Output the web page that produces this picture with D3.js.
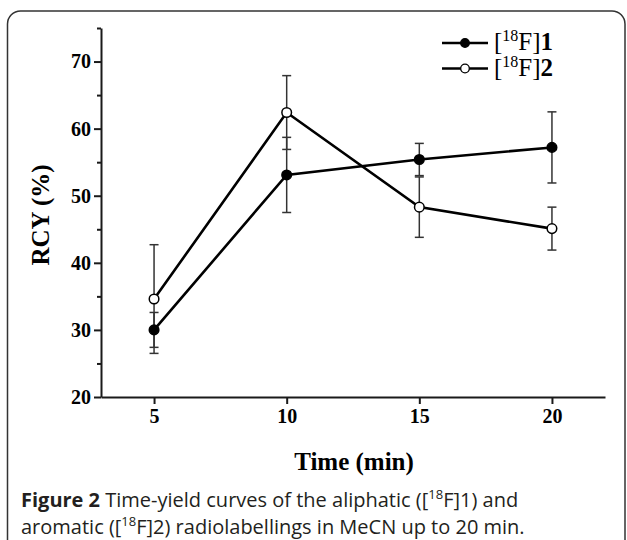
<!DOCTYPE html>
<html>
<head>
<meta charset="utf-8">
<script src="https://cdn.jsdelivr.net/npm/d3@7"></script>
<style>
  html, body { margin: 0; padding: 0; background: #fff; }
  svg { display: block; }
</style>
</head>
<body>
<div id="chart"></div>
<script>
// Time-yield curves, RCY (%) vs time (min) for two labelled compounds
const times = [5, 10, 15, 20];
const rcy1 = [30.0, 53.1, 55.4, 57.2];   // [18F]1, filled markers
const err1 = [2.6, 5.6, 2.4, 5.3];
const rcy2 = [34.6, 62.4, 48.3, 45.1];   // [18F]2, open markers
const err2 = [8.1, 5.5, 4.5, 3.2];
const yTicks = [20, 30, 40, 50, 60, 70];
const yMinorTicks = [25, 35, 45, 55, 65, 75];
const xTicks = [5, 10, 15, 20];

const width = 627, height = 540;
const serif = "'Liberation Serif', 'Times New Roman', serif";

const svg = d3.select("#chart").append("svg")
  .attr("width", width)
  .attr("height", height);

// rounded frame around the figure (runs off the bottom)
svg.append("rect")
  .attr("x", 7.5).attr("y", 11)
  .attr("width", 617.5).attr("height", 560)
  .attr("rx", 13)
  .attr("fill", "none")
  .attr("stroke", "#333")
  .attr("stroke-width", 1.5);

const x = d3.scaleLinear().domain([3, 22]).range([101, 605]);
const y = d3.scaleLinear().domain([20, 75]).range([397, 28]);

// y axis: major + minor ticks
svg.append("g")
  .attr("transform", `translate(${x(3)},0)`)
  .call(d3.axisLeft(y).tickValues(yTicks).tickSize(7).tickSizeOuter(0).tickPadding(3));
svg.append("g")
  .attr("transform", `translate(${x(3)},0)`)
  .call(d3.axisLeft(y).tickValues(yMinorTicks).tickSize(4).tickSizeOuter(0).tickFormat(""))
  .select(".domain").remove();

svg.append("g")
  .attr("transform", `translate(0,${y(20)})`)
  .call(d3.axisBottom(x).tickValues(xTicks).tickSize(7).tickSizeOuter(0).tickPadding(5));

svg.selectAll(".domain, .tick line")
  .attr("stroke", "#1a1a1a")
  .attr("stroke-width", 2);

svg.selectAll(".tick text")
  .attr("fill", "#000")
  .style("font-family", serif)
  .style("font-weight", "bold")
  .style("font-size", "20px");

// axis titles
svg.append("text")
  .attr("transform", `translate(49,215) rotate(-90)`)
  .attr("text-anchor", "middle")
  .style("font-family", serif)
  .style("font-weight", "bold")
  .style("font-size", "25px")
  .text("RCY (%)");

svg.append("text")
  .attr("x", 354).attr("y", 470)
  .attr("text-anchor", "middle")
  .style("font-family", serif)
  .style("font-weight", "bold")
  .style("font-size", "25px")
  .text("Time (min)");

const series = [
  { vals: rcy1, errs: err1, fill: "#000" },
  { vals: rcy2, errs: err2, fill: "#fff" }
];

// error bars
series.forEach(s => {
  const g = svg.append("g")
    .attr("stroke", "#333")
    .attr("stroke-width", 1.5);
  times.forEach((t, i) => {
    const lo = s.vals[i] - s.errs[i], hi = s.vals[i] + s.errs[i];
    g.append("line")
      .attr("x1", x(t)).attr("x2", x(t))
      .attr("y1", y(lo)).attr("y2", y(hi));
    [lo, hi].forEach(v => {
      g.append("line")
        .attr("x1", x(t) - 4.5).attr("x2", x(t) + 4.5)
        .attr("y1", y(v)).attr("y2", y(v));
    });
  });
});

const line = d3.line().x(d => x(d[0])).y(d => y(d[1]));

series.forEach(s => {
  svg.append("path")
    .datum(times.map((t, i) => [t, s.vals[i]]))
    .attr("fill", "none")
    .attr("stroke", "#000")
    .attr("stroke-width", 2.6)
    .attr("d", line);
});

series.forEach(s => {
  svg.selectAll(null)
    .data(times.map((t, i) => [t, s.vals[i]]))
    .enter().append("circle")
      .attr("cx", d => x(d[0]))
      .attr("cy", d => y(d[1]))
      .attr("r", 4.8)
      .attr("fill", s.fill)
      .attr("stroke", "#000")
      .attr("stroke-width", 1.5);
});

// legend
const legendNames = ["1", "2"];
legendNames.forEach((name, i) => {
  const ly = 43 + i * 25.5;
  svg.append("line")
    .attr("x1", 442).attr("x2", 488)
    .attr("y1", ly).attr("y2", ly)
    .attr("stroke", "#000").attr("stroke-width", 2.6);
  svg.append("circle")
    .attr("cx", 465).attr("cy", ly).attr("r", 4.3)
    .attr("fill", series[i].fill)
    .attr("stroke", "#000").attr("stroke-width", 1.3);
  const t = svg.append("text")
    .attr("x", 494).attr("y", ly + 7)
    .style("font-family", serif)
    .style("font-size", "25px");
  t.append("tspan").text("[");
  t.append("tspan").attr("dy", -9).style("font-size", "16px").text("18");
  t.append("tspan").attr("dy", 9).text("F]");
  t.append("tspan").style("font-weight", "bold").text(name);
});

// caption
const sans = "'Open Sans', 'Noto Sans', sans-serif";
const capSize = "20px";
const cap1 = svg.append("text")
  .attr("x", 21).attr("y", 507)
  .attr("fill", "#231f20")
  .style("font-family", sans)
  .style("font-size", capSize);
cap1.append("tspan").style("font-weight", "bold").text("Figure 2");
cap1.append("tspan").text(" Time-yield curves of the aliphatic ([");
cap1.append("tspan").attr("dy", -8).style("font-size", "13px").text("18");
cap1.append("tspan").attr("dy", 8).text("F]1) and");

const cap2 = svg.append("text")
  .attr("x", 21).attr("y", 534)
  .attr("fill", "#231f20")
  .style("font-family", sans)
  .style("font-size", capSize);
cap2.append("tspan").text("aromatic ([");
cap2.append("tspan").attr("dy", -8).style("font-size", "13px").text("18");
cap2.append("tspan").attr("dy", 8).text("F]2) radiolabellings in MeCN up to 20 min.");
</script>
</body>
</html>
